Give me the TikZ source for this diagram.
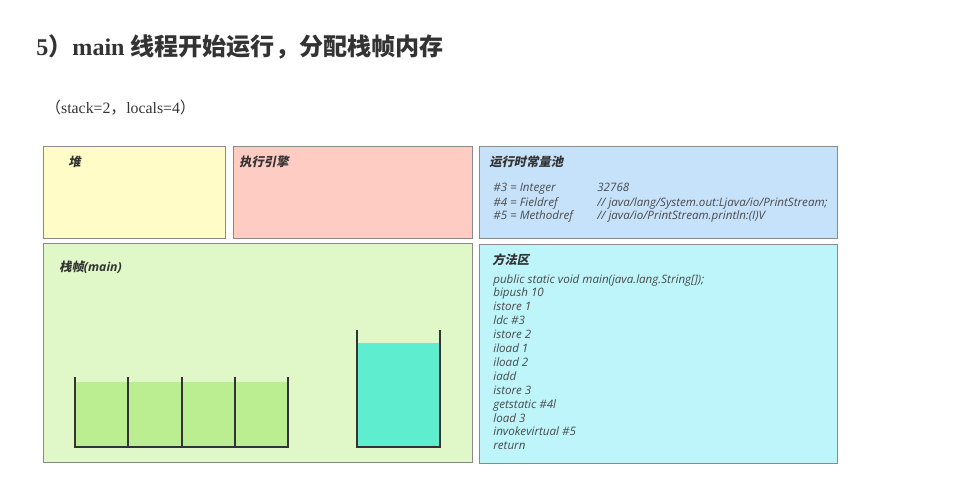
\documentclass[tikz,border=0pt]{standalone}
\usepackage{fontspec}
\setmainfont{Liberation Serif}
\setsansfont{Open Sans}
\newfontfamily\cjk{Noto Sans CJK SC}
\newfontfamily\cjkit{Noto Sans CJK SC}[FakeSlant=0.2]
\usetikzlibrary{positioning}
\definecolor{jvmHeap}{HTML}{FFFCC8}
\definecolor{jvmEngine}{HTML}{FFCCC4}
\definecolor{jvmPool}{HTML}{C6E2FB}
\definecolor{jvmFrame}{HTML}{E0F8C8}
\definecolor{jvmMethod}{HTML}{BDF5FB}
\definecolor{jvmLocals}{HTML}{BAEE90}
\definecolor{jvmOperand}{HTML}{5EEDCE}
\definecolor{jvmEdge}{HTML}{8A8A8A}
\definecolor{jvmInk}{HTML}{333333}
\definecolor{jvmCode}{HTML}{4A4A4A}
\tikzset{
  area/.style={draw=jvmEdge, line width=0.6pt, anchor=north west, inner sep=0pt},
  lbl/.style={anchor=base west, inner sep=0pt, text=jvmInk,
              font=\fontsize{7}{8}\selectfont\cjkit\bfseries},
  code/.style={anchor=base west, inner sep=0pt, text=jvmCode,
              font=\fontsize{6.6}{8}\selectfont\sffamily\itshape},
  tank/.style={draw=jvmInk, line width=0.7pt},
}
\begin{document}
\begin{tikzpicture}[x=0.02cm, y=-0.02cm]
  \useasboundingbox (0,0) rectangle (977,483);
  % title
  \node[anchor=base west, inner sep=0pt, text=jvmInk] (title) at (36,56)
    {\fontsize{13.7}{16}\selectfont\bfseries 5\cjk）\rmfamily main \cjk 线程开始运行，分配栈帧内存};
  \node[anchor=base west, inner sep=0pt, text=jvmInk] (args) at (45,113)
    {\fontsize{9}{11}\selectfont\cjk（\rmfamily stack=2\cjk，\rmfamily locals=4\cjk）};
  % areas
  \node[area, fill=jvmHeap, minimum width=3.64cm, minimum height=1.84cm] (heap) at (43,146) {};
  \node[area, fill=jvmEngine, minimum width=4.78cm, minimum height=1.84cm] (engine) at (233,146) {};
  \node[area, fill=jvmPool, minimum width=7.16cm, minimum height=1.84cm] (pool) at (479,146) {};
  \node[area, fill=jvmFrame, minimum width=8.58cm, minimum height=4.38cm] (frame) at (43,243) {};
  \node[area, fill=jvmMethod, minimum width=7.16cm, minimum height=4.38cm] (method) at (479,244) {};
  \node[lbl] (heapT) at (68,166) {堆};
  \node[lbl] (engineT) at (239,166) {执行引擎};
  \node[lbl] (poolT) at (489,167) {运行时常量池};
  \node[lbl] (frameT) at (59,271) {栈帧\sffamily\itshape(main)};
  \node[lbl] (methodT) at (492,264) {方法区};
  % constant pool
  \node[code] (c3) at (493,192) {\#3 = Integer};
  \node[code] (c4) at (493,206) {\#4 = Fieldref};
  \node[code] (c5) at (493,219) {\#5 = Methodref};
  \node[code] (v3) at (597,192) {32768};
  \node[code] (v4) at (597,206) {// java/lang/System.out:Ljava/io/PrintStream;};
  \node[code] (v5) at (597,219) {// java/io/PrintStream.println:(I)V};
  % byte code
  \foreach \txt [count=\i from 0] in {public static void main(java.lang.String[]);,
      bipush 10, istore 1, ldc \#3, istore 2, iload 1, iload 2, iadd,
      istore 3, getstatic \#4l, load 3, invokevirtual \#5, return}
    \node[code] (op\i) at (493,283+13.9*\i) {\txt};
  % local variable table
  \fill[jvmLocals] (75,382) rectangle (288,447);
  \draw[tank] (75,377) -- (75,447) -- (288,447) -- (288,377);
  \foreach \x in {128,182,235}
    \draw[tank] (\x,377) -- (\x,447);
  % operand stack
  \fill[jvmOperand] (357,343) rectangle (440,447);
  \draw[tank] (357,330) -- (357,447) -- (440,447) -- (440,330);
\end{tikzpicture}
\end{document}
